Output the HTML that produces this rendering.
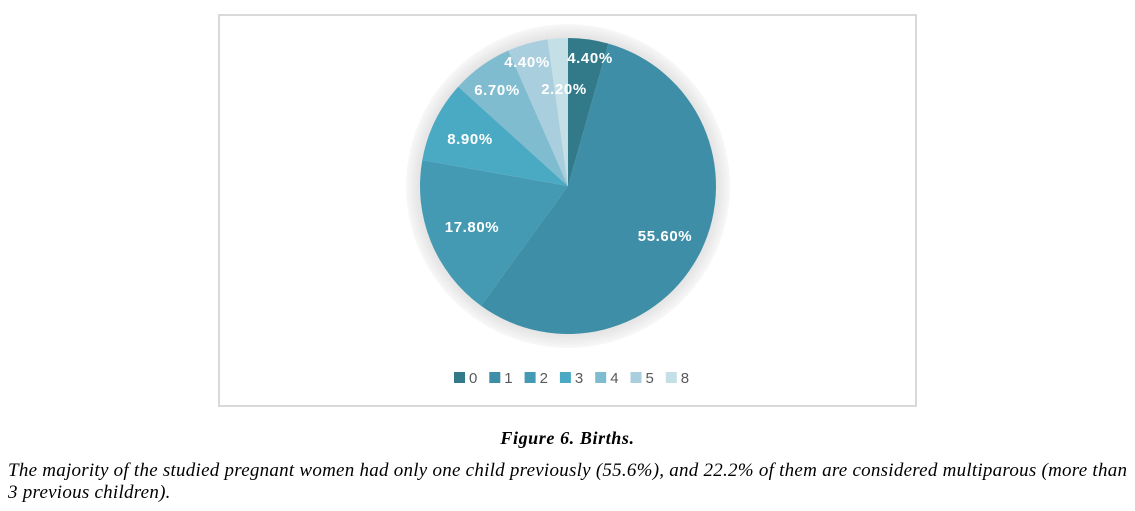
<!DOCTYPE html>
<html><head><style>
body{margin:0;width:1135px;height:511px;background:#fff;position:relative;overflow:hidden;font-family:"Liberation Serif",serif}
.frame{position:absolute;left:218px;top:14px;width:699px;height:393px;border:2px solid #d9d9d9;box-sizing:border-box}
.cap{position:absolute;left:0;width:1135px;top:428px;text-align:center;font:italic bold 18px "Liberation Serif",serif;letter-spacing:0.6px}
.p{position:absolute;left:8px;top:460px;width:1130px;font:italic 19px/22px "Liberation Serif",serif;letter-spacing:0.25px;color:#000;white-space:nowrap}
</style></head><body>
<div class="frame"></div>
<svg id="s" width="1135" height="511" style="position:absolute;left:0;top:0">
<defs><radialGradient id="g" cx="568" cy="186" r="162" gradientUnits="userSpaceOnUse">
<stop offset="0.88" stop-color="#dedede"/><stop offset="0.94" stop-color="#e9e9e9"/><stop offset="1" stop-color="#f8f8f8"/></radialGradient></defs>
<circle cx="568" cy="186" r="162" fill="url(#g)"/>
<g id="pie"></g>
<g font-family="Liberation Sans,sans-serif" font-weight="bold" font-size="15" letter-spacing="0.6" fill="#fff" text-anchor="middle">
<text x="590" y="63">4.40%</text>
<text x="564" y="94">2.20%</text>
<text x="527" y="67">4.40%</text>
<text x="497" y="95">6.70%</text>
<text x="470" y="144">8.90%</text>
<text x="472" y="232">17.80%</text>
<text x="665" y="241">55.60%</text>
</g>
<g id="leg" font-family="Liberation Sans,sans-serif" font-size="15" fill="#595959"></g>
</svg>
<div class="cap">Figure 6. Births.</div>
<div class="p">The majority of the studied pregnant women had only one child previously (55.6%), and 22.2% of them are considered multiparous (more than<br>3 previous children).</div>
<script>
var v=[4.4,55.6,17.8,8.9,6.7,4.4,2.2],c=["#327a8a","#3d8ea6","#4499b3","#4aaac4","#80bcd0","#a9cedd","#c5dfe6"];
var cx=568,cy=186,r=148,a=0,h="";
v.forEach(function(p,i){var b=a+p/100*2*Math.PI;
var x1=cx+r*Math.sin(a),y1=cy-r*Math.cos(a),x2=cx+r*Math.sin(b),y2=cy-r*Math.cos(b);
h+='<path d="M'+cx+','+cy+'L'+x1+','+y1+'A'+r+','+r+' 0 '+(b-a>Math.PI?1:0)+' 1 '+x2+','+y2+'Z" fill="'+c[i]+'"/>';a=b;});
document.getElementById("pie").innerHTML=h;
var l=["0","1","2","3","4","5","8"],g="";
l.forEach(function(t,i){var x=454+i*35.3;g+='<rect x="'+x+'" y="372" width="11" height="11" fill="'+c[i]+'"/><text x="'+(x+15)+'" y="383">'+t+'</text>';});
document.getElementById("leg").innerHTML=g;
</script>
</body></html>
